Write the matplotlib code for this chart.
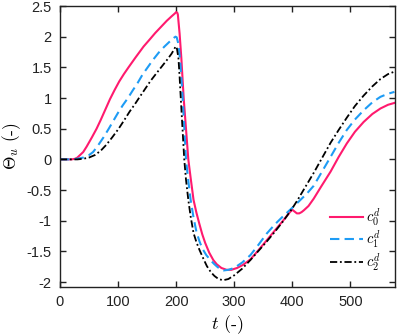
import matplotlib
matplotlib.use("Agg")
import matplotlib.pyplot as plt

plt.rcParams['font.family'] = ['Liberation Sans', 'DejaVu Sans']
plt.rcParams['mathtext.fontset'] = 'cm'
plt.rcParams['axes.unicode_minus'] = False

# ---- data ----
t_c0 = [0, 20, 26, 30, 40, 46, 55, 63, 70, 78, 86, 94, 102, 110, 118, 130,
        144, 155, 164, 174, 184, 192, 198, 200, 202, 203, 206, 209, 213,
        217, 221, 225, 230, 235, 240, 245, 250, 257, 264, 270, 278, 287, 295,
        305, 315, 328, 340, 356, 370, 385, 395, 400, 404, 408, 412, 416, 420,
        428, 437, 450, 466, 480, 494, 508, 523, 538, 552, 565, 576]
theta_c0 = [0, 0.0, 0.01, 0.03, 0.12, 0.21, 0.36, 0.5, 0.64, 0.81, 0.98, 1.13,
            1.27, 1.39, 1.5, 1.66, 1.84, 1.96, 2.06, 2.16, 2.26, 2.33, 2.38,
            2.40, 2.39, 2.36, 2.05, 1.65, 1.0, 0.5, 0.0, -0.3, -0.66, -0.87,
            -1.05, -1.22, -1.36, -1.52, -1.64, -1.71, -1.77, -1.80, -1.80,
            -1.77, -1.72, -1.63, -1.50, -1.32, -1.16, -0.99, -0.87, -0.82,
            -0.85, -0.88, -0.88, -0.86, -0.83, -0.76, -0.64, -0.44, -0.20,
            0.04, 0.26, 0.45, 0.61, 0.74, 0.83, 0.89, 0.92]

t_c1 = [0, 20, 30, 40, 50, 57, 65, 75, 84, 92, 100, 108, 117, 125, 134, 142,
        151, 160, 170, 180, 190, 196, 199, 201, 204, 207, 210, 213, 217, 221,
        225, 230, 235, 240, 245, 252, 259, 265, 272, 282, 290, 300, 314, 328,
        342, 356, 370, 385, 400, 412, 425, 437, 450, 466, 480, 494, 508, 523,
        538, 552, 565, 576]
theta_c1 = [0, 0, 0.01, 0.03, 0.07, 0.12, 0.22, 0.36, 0.5, 0.63, 0.76, 0.88,
            1.0, 1.12, 1.25, 1.38, 1.5, 1.62, 1.74, 1.84, 1.93, 1.98, 2.0,
            1.99, 1.88, 1.6, 1.2, 0.7, 0.0, -0.35, -0.66, -0.95, -1.18, -1.33,
            -1.45, -1.56, -1.64, -1.70, -1.76, -1.81, -1.80, -1.77, -1.68,
            -1.56, -1.39, -1.21, -1.06, -0.92, -0.79, -0.68, -0.56, -0.43,
            -0.22, 0.04, 0.27, 0.48, 0.65, 0.80, 0.93, 1.02, 1.07, 1.10]

t_c2 = [0, 30, 40, 50, 60, 70, 80, 90, 101, 110, 120, 129, 136, 146, 156,
        165, 175, 185, 192, 197, 199, 201, 204, 206, 208, 211, 214, 217, 221,
        225, 230, 235, 240, 247, 253, 260, 266, 273, 281, 290, 300, 314, 328,
        342, 356, 370, 385, 400, 410, 420, 437, 450, 466, 480, 494, 508, 523,
        538, 552, 565, 576]
theta_c2 = [0, 0, 0.01, 0.03, 0.07, 0.14, 0.24, 0.36, 0.5, 0.63, 0.78, 0.9,
            1.0, 1.14, 1.28, 1.39, 1.51, 1.63, 1.72, 1.80, 1.84, 1.83, 1.65,
            1.35, 1.0, 0.5, 0.0, -0.33, -0.66, -0.93, -1.2, -1.35, -1.47,
            -1.62, -1.74, -1.84, -1.90, -1.95, -1.97, -1.95, -1.89, -1.78,
            -1.64, -1.49, -1.34, -1.18, -1.0, -0.80, -0.65, -0.49, -0.22, 0.0,
            0.27, 0.48, 0.68, 0.87, 1.04, 1.19, 1.31, 1.39, 1.43]

labels = [r'$c_0^d$', r'$c_1^d$', r'$c_2^d$']
xticks = [0, 100, 200, 300, 400, 500]
yticks = [-2, -1.5, -1, -0.5, 0, 0.5, 1, 1.5, 2, 2.5]
ytick_labels = ['-2', '-1.5', '-1', '-0.5', '0', '0.5', '1', '1.5', '2', '2.5']

fig = plt.figure(figsize=(3.99, 3.35), dpi=100)
ax = fig.add_axes([60/399, 1-287/335, 335/399, 281/335])

ax.plot(t_c0, theta_c0, color='#ff1a6e', lw=1.5, ls='-', label=labels[0])
ax.plot(t_c1, theta_c1, color='#1e9cf5', lw=1.5, ls=(0, (4.5, 2.5)), label=labels[1])
ax.plot(t_c2, theta_c2, color='black', lw=1.3, ls=(0, (4, 1.5, 1, 1.5)), label=labels[2])

ax.set_xlim(0, 577)
ax.set_ylim(-2.08, 2.5)
ax.set_xticks(xticks)
ax.set_xticklabels([str(v) for v in xticks])
ax.set_yticks(yticks)
ax.set_yticklabels(ytick_labels)
ax.tick_params(direction='in', top=True, right=True, length=4, width=1,
               labelsize=10.5, colors='#222222', pad=6)
for s in ax.spines.values():
    s.set_linewidth(1.0)
    s.set_color('#222222')

ax.set_xlabel(r'$t$ (-)', fontsize=13, fontfamily='cmr10')
ax.set_ylabel(r'$\Theta_u$ (-)', fontsize=12.5, fontfamily='cmr10')
ax.xaxis.set_label_coords(0.5, (287-313)/281)
ax.yaxis.set_label_coords((23-60)/335, 0.5)

leg = ax.legend(loc='lower right', frameon=False, fontsize=10.5, handlelength=2.3,
                handletextpad=0.2, labelspacing=0.05, borderaxespad=0.0,
                bbox_to_anchor=(0.975, 0.03))

fig.savefig('out.png', dpi=100)
